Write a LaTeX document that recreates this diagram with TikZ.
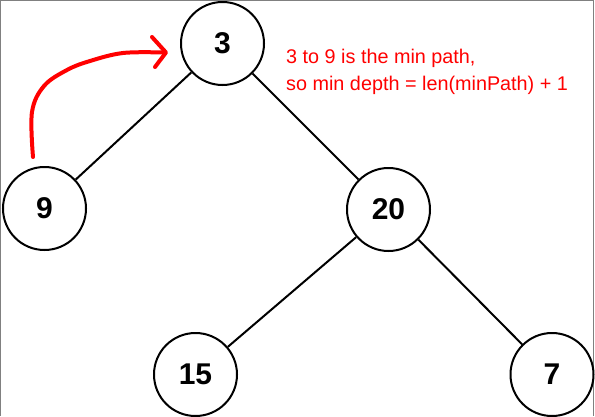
\documentclass[tikz,border=0pt]{standalone}
\usepackage{fontspec}
\setmainfont{Liberation Sans}
\begin{document}
\begin{tikzpicture}[x=1pt,y=-1pt,
  tnode/.style={circle,draw,line width=2pt,minimum size=83pt,inner sep=0pt,
    font=\fontsize{30}{30}\selectfont\bfseries},
  edge/.style={line width=2pt},
  note/.style={text=red,anchor=north west,inner sep=0pt,align=left,
    font=\fontsize{19.8}{27}\selectfont},
  hand/.style={draw=red,line width=4pt,line cap=round,line join=round}]
\useasboundingbox (0,0) rectangle (595,416);
\clip (0,0) rectangle (595,416);
\draw[gray,line width=1.2pt] (0.6,416) -- (0.6,0.6) -- (593.6,0.6) -- (593.6,416);

\node[tnode] (n3)  at (222.5,43.5) {3};
\node[tnode] (n9)  at (44.5,208.5) {9};
\node[tnode] (n20) at (388.5,209.5) {20};
\node[tnode] (n15) at (195.5,374.5) {15};
\node[tnode] (n7)  at (552,374.5) {7};

\draw[edge] (n3) -- (n9);
\draw[edge] (n3) -- (n20);
\draw[edge] (n20) -- (n15);
\draw[edge] (n20) -- (n7);

\node[note] (txt) at (286,48.5) {3 to 9 is the min path,\\so min depth = len(minPath) + 1};

\coordinate (as) at (33,157);
\coordinate (tip) at (166,52.5);
\draw[hand] plot[smooth,tension=0.6] coordinates {(as) (32,112) (44,86) (67,70) (90,61) (123,53) (163,52.5)};
\draw[hand] (152,37) -- (tip) -- (155,67);
\end{tikzpicture}
\end{document}
